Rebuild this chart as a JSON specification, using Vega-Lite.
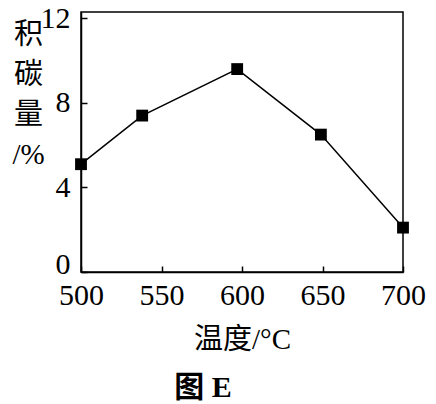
{
  "$schema": "https://vega.github.io/schema/vega-lite/v6.json",
  "width": 322,
  "height": 260,
  "autosize": "none",
  "padding": {"left": 81, "top": 12, "right": 33, "bottom": 132},
  "background": "white",
  "config": {
    "view": {"stroke": "black", "strokeWidth": 1.5},
    "font": "Liberation Serif, Noto Sans CJK SC"
  },
  "title": {
    "text": "图 E",
    "orient": "bottom",
    "anchor": "middle",
    "dx": -39,
    "offset": 19,
    "fontSize": 30,
    "fontWeight": "bold",
    "font": "Liberation Serif, Noto Sans CJK SC",
    "color": "black"
  },
  "data": {
    "values": [
      {"temp": 500, "carbon": 5.1},
      {"temp": 538, "carbon": 7.4},
      {"temp": 597, "carbon": 9.6},
      {"temp": 649, "carbon": 6.5},
      {"temp": 700, "carbon": 2.1}
    ]
  },
  "encoding": {
    "x": {
      "field": "temp",
      "type": "quantitative",
      "scale": {"domain": [500, 700], "nice": false, "zero": false},
      "axis": {
        "values": [500, 550, 600, 650, 700],
        "grid": false,
        "domainColor": "black",
        "domainWidth": 1.5,
        "tickColor": "black",
        "tickWidth": 1.5,
        "tickSize": -6,
        "labelPadding": 14,
        "labelFlush": false,
        "labelFontSize": 30,
        "labelColor": "black",
        "labelFont": "Liberation Serif",
        "title": "温度/°C",
        "titleFont": "Liberation Serif, Noto Sans CJK SC",
        "titleFontSize": 29,
        "titleFontWeight": "normal",
        "titleColor": "black",
        "titleBaseline": "top",
        "titleY": 53
      }
    },
    "y": {
      "field": "carbon",
      "type": "quantitative",
      "scale": {"domain": [0, 12.3], "nice": false},
      "axis": {
        "values": [0, 4, 8, 12],
        "grid": false,
        "domainColor": "black",
        "domainWidth": 1.5,
        "tickColor": "black",
        "tickWidth": 1.5,
        "tickSize": -6,
        "labelPadding": 17,
        "labelOffset": {"condition": {"test": "datum.value == 0", "value": -8}, "value": 0},
        "labelFontSize": 30,
        "labelColor": "black",
        "labelFont": "Liberation Serif",
        "title": ["积", "碳", "量", "/%"],
        "titleFont": "Liberation Serif, Noto Sans CJK SC",
        "titleAngle": 0,
        "titleFontSize": 29,
        "titleFontWeight": "normal",
        "titleColor": "black",
        "titleAlign": "center",
        "titleBaseline": "top",
        "titleLineHeight": 40,
        "titleX": -53,
        "titleY": 8
      }
    }
  },
  "layer": [
    {"mark": {"type": "line", "color": "black", "strokeWidth": 1.5}},
    {"mark": {"type": "point", "shape": "square", "filled": true, "color": "black", "size": 140, "opacity": 1}}
  ]
}
